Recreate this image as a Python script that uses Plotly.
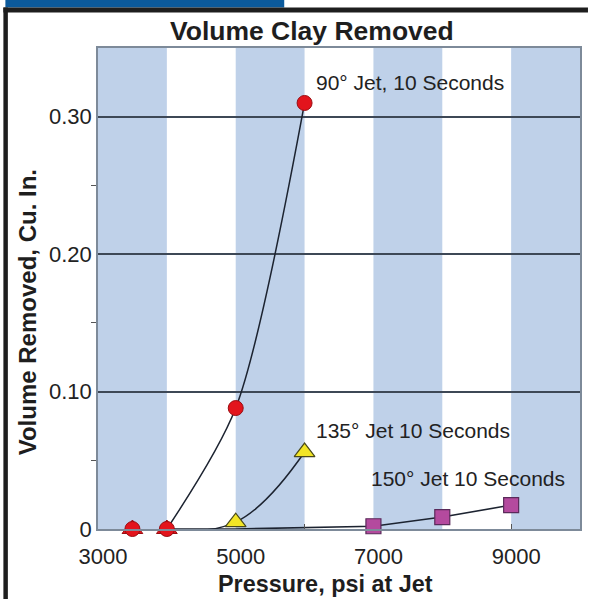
import plotly.graph_objects as go

# ---- data ----
jet90_x = [3500, 4000, 5000, 6000]
jet90_y = [0.0, 0.0, 0.088, 0.310]
jet90_curve_x = [4000, 5000, 6000]
jet90_curve_y = [0.0, 0.088, 0.310]

jet135_x = [5000, 6000]
jet135_y = [0.005, 0.056]
jet135_low_x = [3500, 4000]
jet135_low_y = [0.0, 0.0]
jet135_curve_x = [4000, 5000, 6000]
jet135_curve_y = [0.0, 0.005, 0.056]

jet150_x = [7000, 8000, 9000]
jet150_y = [0.002, 0.0087, 0.0174]
jet150_line_x = [4000, 5000, 7000, 8000, 9000]
jet150_line_y = [0.0, 0.0, 0.002, 0.0087, 0.0174]

x_ticks = [3000, 5000, 7000, 9000]
x_ticklabels = ["3000", "5000", "7000", "9000"]
y_ticks = [0, 0.1, 0.2, 0.3]
y_ticklabels = ["0", "0.10", "0.20", "0.30"]
stripe_starts = [3000, 5000, 7000, 9000]
stripe_width = 1000

labels = ["90° Jet, 10 Seconds", "135° Jet 10 Seconds", "150° Jet 10 Seconds"]
label_x = [7530, 7570, 8380]
label_y = [0.325, 0.072, 0.037]

FONT = "Arial, Liberation Sans, sans-serif"
W, H = 590, 599
L, R, T, B = 98, 8, 48, 70
PW, PH = W - L - R, H - T - B


def px(x):
    return (x - L) / PW


def py(y):
    return (H - B - y) / PH


fig = go.Figure()

line_col = "#1c2330"
fig.add_trace(go.Scatter(x=jet150_line_x, y=jet150_line_y, mode="lines",
                         line=dict(color=line_col, width=1.6), showlegend=False, cliponaxis=False))
fig.add_trace(go.Scatter(x=jet135_curve_x, y=jet135_curve_y, mode="lines",
                         line=dict(color=line_col, width=1.5, shape="spline", smoothing=1.2),
                         showlegend=False, cliponaxis=False))
fig.add_trace(go.Scatter(x=jet90_curve_x, y=jet90_curve_y, mode="lines",
                         line=dict(color=line_col, width=1.5, shape="spline", smoothing=0.8),
                         showlegend=False, cliponaxis=False))

fig.add_trace(go.Scatter(x=jet135_low_x, y=jet135_low_y, mode="markers",
                         marker=dict(symbol="triangle-up", size=18, color="#e3141c",
                                     line=dict(color="#9a0d12", width=1)),
                         showlegend=False, cliponaxis=False))
fig.add_trace(go.Scatter(x=jet90_x, y=jet90_y, mode="markers",
                         marker=dict(symbol="circle", size=15, color="#e3141c",
                                     line=dict(color="#9a0d12", width=1)),
                         showlegend=False, cliponaxis=False))
fig.add_trace(go.Scatter(x=jet135_x, y=jet135_y, mode="markers",
                         marker=dict(symbol="triangle-up", size=18, color="#f2e526",
                                     line=dict(color="#4a4a1a", width=1.2)),
                         showlegend=False, cliponaxis=False))
fig.add_trace(go.Scatter(x=jet150_x, y=jet150_y, mode="markers",
                         marker=dict(symbol="square", size=15, color="#b44a9e",
                                     line=dict(color="#5a2a5a", width=1.2)),
                         showlegend=False, cliponaxis=False))

shapes = []
for s in stripe_starts:
    shapes.append(dict(type="rect", xref="x", yref="paper", x0=s, x1=s + stripe_width,
                       y0=0, y1=1, fillcolor="#bfd1e9", line=dict(width=0), layer="below"))
# page decorations
shapes.append(dict(type="rect", xref="paper", yref="paper", x0=px(5), x1=px(285),
                   y0=py(0), y1=py(7.5), fillcolor="#0b5a9c", line=dict(width=0)))
shapes.append(dict(type="rect", xref="paper", yref="paper", x0=px(3), x1=px(590),
                   y0=py(7.5), y1=py(12.5), fillcolor="#1e1e1e", line=dict(width=0)))
shapes.append(dict(type="rect", xref="paper", yref="paper", x0=px(3), x1=px(7.5),
                   y0=py(7.5), y1=py(599), fillcolor="#1e1e1e", line=dict(width=0)))

annotations = []
for t, x, y in zip(labels, label_x, label_y):
    annotations.append(dict(text=t, x=x, y=y, xref="x", yref="y", showarrow=False,
                            font=dict(family=FONT, size=21, color="#222222"),
                            xanchor="center", yanchor="middle"))
annotations.append(dict(text="<b>Volume Clay Removed</b>", x=px(313), y=py(31), xref="paper",
                        yref="paper", showarrow=False, xanchor="center", yanchor="middle",
                        font=dict(family=FONT, size=26.5, color="#1e1e1e")))
annotations.append(dict(text="<b>Volume Removed, Cu. In.</b>", x=px(27), y=py(312), xref="paper",
                        yref="paper", showarrow=False, xanchor="center", yanchor="middle",
                        textangle=-90, font=dict(family=FONT, size=24, color="#1e1e1e")))
annotations.append(dict(text="<b>Pressure, psi at Jet</b>", x=px(326), y=py(584), xref="paper",
                        yref="paper", showarrow=False, xanchor="center", yanchor="middle",
                        font=dict(family=FONT, size=23.4, color="#1e1e1e")))

fig.update_layout(
    width=W, height=H,
    margin=dict(l=L, r=R, t=T, b=B),
    paper_bgcolor="white", plot_bgcolor="white",
    shapes=shapes, annotations=annotations, showlegend=False,
    xaxis=dict(range=[3000, 10000], tickvals=x_ticks, ticktext=x_ticklabels,
               showgrid=False, zeroline=False, showline=True, mirror=True,
               linecolor="#7d8a99", linewidth=1.5, ticks="", ticklabelshift=5,
               ticklabelstandoff=7,
               tickfont=dict(family=FONT, size=22, color="#222222"),
               minor=dict(tickvals=[6000, 9000], ticks="inside", ticklen=5,
                          tickcolor="#555555", showgrid=False)),
    yaxis=dict(range=[0, 0.35], tickvals=y_ticks, ticktext=y_ticklabels,
               showgrid=True, gridcolor="#3d4856", gridwidth=1.6, zeroline=False,
               showline=True, mirror=True, linecolor="#7d8a99", linewidth=1.5,
               ticks="", ticklabelshift=0,
               tickfont=dict(family=FONT, size=22, color="#222222"),
               minor=dict(tickvals=[0.05, 0.15, 0.25], ticks="outside", ticklen=5,
                          tickcolor="#555555", showgrid=False)),
)

fig.write_html("out.html", config={"displayModeBar": False},
               post_script="document.body.style.margin='0';document.body.style.overflow='hidden';")
